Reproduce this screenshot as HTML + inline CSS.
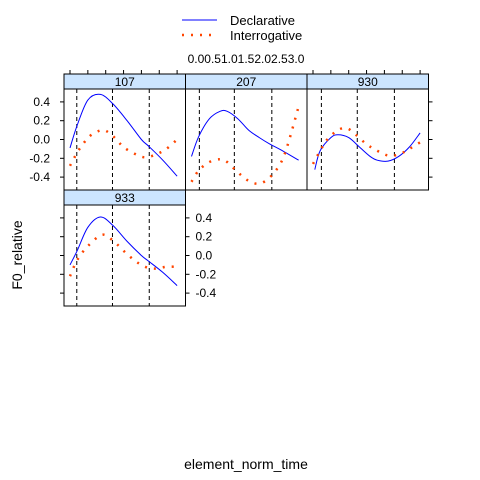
<!DOCTYPE html>
<html><head><meta charset="utf-8"><style>
body{margin:0;background:#fff}
svg{display:block;font-family:"Liberation Sans",Arial,sans-serif}
</style></head><body>
<svg id="c" width="480" height="480" viewBox="0 0 480 480">
<text x="246" y="469" font-size="14" text-anchor="middle">element_norm_time</text>
<text transform="translate(22,255) rotate(-90)" font-size="14" text-anchor="middle">F0_relative</text>
<g>
<line x1="182" y1="20" x2="217" y2="20" stroke="#0000ff" stroke-width="1"/>
<text x="230" y="25" font-size="13">Declarative</text>
<line x1="182" y1="35" x2="217" y2="35" stroke="#ff4500" stroke-width="2.5" stroke-dasharray="2,7"/>
<text x="230" y="40" font-size="13">Interrogative</text>
</g>
<text x="246" y="63" font-size="12" text-anchor="middle">0.00.51.01.52.02.53.0</text>
<g id="g"></g>
</svg>
<script>
const panelNames=["107","207","930","933"];
const xTicks=[0,0.5,1,1.5,2,2.5,3];
const yTicks=[0.4,0.2,0.0,-0.2,-0.4];
const yTickLabels=["0.4","0.2","0.0","-0.2","-0.4"];
const vlines=[[0.19,1.19,2.22],[0.22,1.2,2.25],[0.235,1.24,2.28],[0.19,1.19,2.22]];
const declX=[[0,0.2,0.5,0.85,1.2,1.6,2.0,2.2,2.6,3.0],[0,0.2,0.5,0.8,1.0,1.3,1.6,1.9,2.2,2.5,3.0],[0.05,0.2,0.5,0.7,1.0,1.3,1.6,1.8,2.1,2.4,2.7,3.0],[0,0.2,0.5,0.85,1.2,1.6,2.0,2.2,2.6,3.0]];
const declY=[[-0.09,0.15,0.42,0.48,0.38,0.2,0.0,-0.07,-0.22,-0.39],[-0.18,0.03,0.22,0.3,0.3,0.22,0.1,0.02,-0.05,-0.11,-0.22],[-0.32,-0.12,0.02,0.05,0.02,-0.08,-0.18,-0.22,-0.23,-0.18,-0.08,0.07],[-0.1,0.05,0.3,0.41,0.32,0.15,0.0,-0.06,-0.18,-0.32]];
const intX=[[0,0.2,0.4,0.6,0.9,1.1,1.3,1.5,1.8,2.1,2.4,2.7,3.0],[0,0.2,0.5,0.8,1.0,1.3,1.6,1.9,2.2,2.5,2.7,3.0],[0,0.2,0.4,0.7,0.95,1.2,1.5,1.8,2.1,2.4,2.7,3.0],[0,0.2,0.5,0.9,1.2,1.5,1.8,2.1,2.4,2.7,3.0]];
const intY=[[-0.28,-0.14,-0.03,0.05,0.1,0.07,0.0,-0.08,-0.15,-0.19,-0.16,-0.1,0.0],[-0.45,-0.33,-0.24,-0.21,-0.24,-0.35,-0.44,-0.47,-0.4,-0.25,-0.05,0.35],[-0.26,-0.12,0.0,0.1,0.12,0.05,-0.05,-0.12,-0.17,-0.16,-0.1,-0.03],[-0.22,-0.05,0.1,0.22,0.16,0.05,-0.05,-0.12,-0.14,-0.12,-0.12]];
const NS="http://www.w3.org/2000/svg";
const g=document.getElementById("g");
function mk(t,a,p){const e=document.createElementNS(NS,t);for(const k in a)e.setAttribute(k,a[k]);(p||g).appendChild(e);return e;}
const layout=[{L:64,T:74},{L:185.5,T:74},{L:307,T:74},{L:64,T:190}];
const W=121.5,SH=15,PH=101;
function sx(L,v){return L+6+v*35.7;}
function sy(T,v){return T+SH+50.5-v*94;}
function smooth(pts){let d="M"+pts[0][0]+","+pts[0][1];for(let i=0;i<pts.length-1;i++){const p0=pts[Math.max(i-1,0)],p1=pts[i],p2=pts[i+1],p3=pts[Math.min(i+2,pts.length-1)];d+=" C"+(p1[0]+(p2[0]-p0[0])/6)+","+(p1[1]+(p2[1]-p0[1])/6)+" "+(p2[0]-(p3[0]-p1[0])/6)+","+(p2[1]-(p3[1]-p1[1])/6)+" "+p2[0]+","+p2[1];}return d;}
panelNames.forEach((nm,i)=>{
 const {L,T}=layout[i];
 const pg=mk("g",{});
 
 
 const st=mk("rect",{x:L,y:T,width:W,height:SH,fill:"#cce5ff",stroke:"#000","stroke-width":1},pg);
 
 
 const tx=mk("text",{x:L+W/2,y:T+12,"font-size":12,"text-anchor":"middle"},pg);tx.textContent=nm;
 
 
 const cp="cp"+i;
 const cl=mk("clipPath",{id:cp},pg);mk("rect",{x:L,y:T+SH,width:W,height:PH},cl);
 const inner=mk("g",{"clip-path":"url(#"+cp+")"},pg);
 vlines[i].forEach(v=>{const l=mk("line",{x1:sx(L,v),x2:sx(L,v),y1:T+SH,y2:T+SH+PH,stroke:"#000","stroke-dasharray":"4,3"},inner);
  
  });
 const d=mk("path",{d:smooth(declX[i].map((x,j)=>[sx(L,x),sy(T,declY[i][j])])),fill:"none",stroke:"#0000ff","stroke-width":1},inner);
 
 
 const q=mk("path",{d:smooth(intX[i].map((x,j)=>[sx(L,x),sy(T,intY[i][j])])),fill:"none",stroke:"#ff4500","stroke-width":2.5,"stroke-dasharray":"2,7"},inner);
 
 
 mk("rect",{x:L,y:T+SH,width:W,height:PH,fill:"none",stroke:"#000","stroke-width":1},pg);
 if(i===0||i===2){xTicks.forEach(v=>mk("line",{x1:sx(L,v),x2:sx(L,v),y1:T-4,y2:T,stroke:"#000"},pg));}
 if(i===0||i===3){yTicks.forEach(v=>mk("line",{x1:L-4,x2:L,y1:sy(T,v),y2:sy(T,v),stroke:"#000"},pg));}
 if(i===0){yTicks.forEach((v,j)=>{const t=mk("text",{x:L-14,y:sy(T,v)+4,"font-size":12,"text-anchor":"end"},pg);t.textContent=yTickLabels[j];
  
  });}
 if(i===2||i===3){yTicks.forEach(v=>mk("line",{x1:L+W,x2:L+W+4,y1:sy(T,v),y2:sy(T,v),stroke:"#000"},pg));}
 if(i===3){yTicks.forEach((v,j)=>{const t=mk("text",{x:L+W+10,y:sy(T,v)+4,"font-size":12},pg);t.textContent=yTickLabels[j];
  
  });}
});
</script>
</body></html>
